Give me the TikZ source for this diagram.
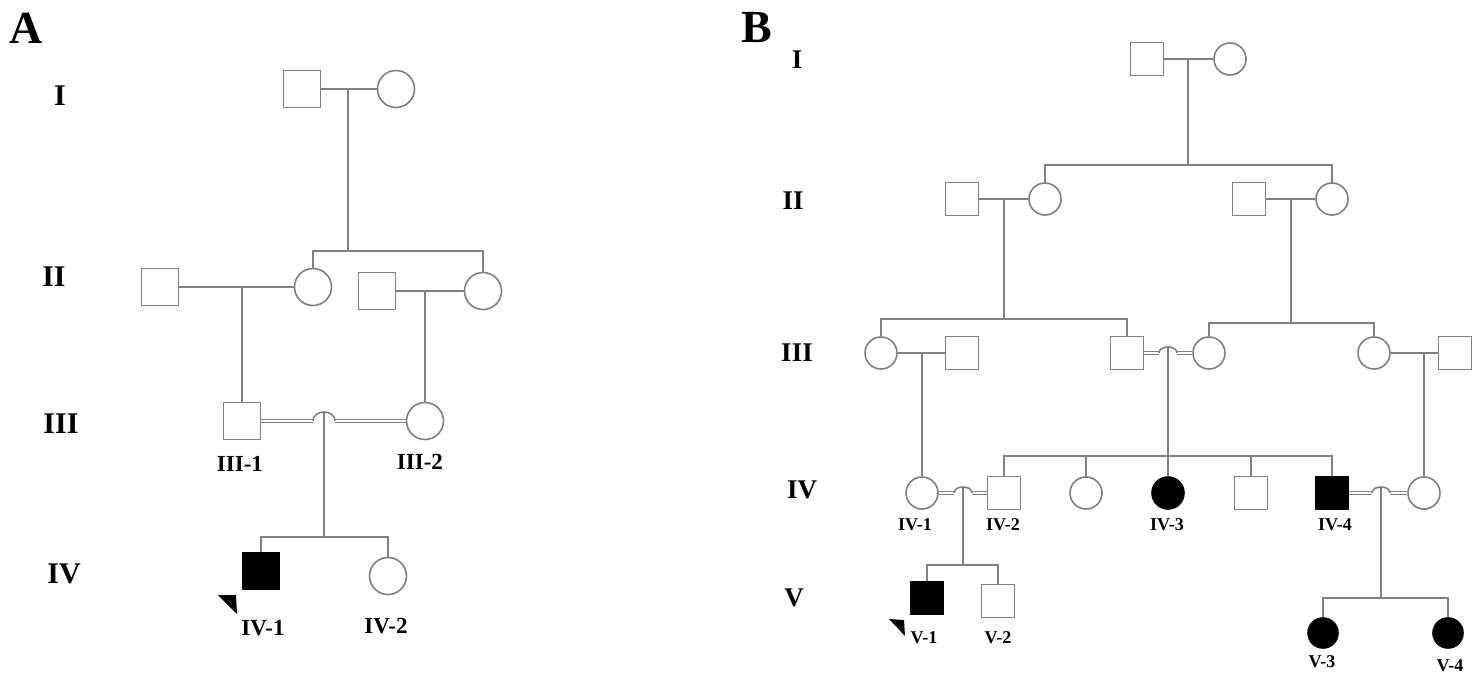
\documentclass[tikz,border=0pt]{standalone}
\usepackage{fontspec}
\setmainfont{Liberation Serif}
\begin{document}
\begin{tikzpicture}[x=1pt,y=-1pt]
\definecolor{lg}{gray}{0.5}
\tikzset{
 gl/.style={draw=lg, line width=1.6pt},
 dline/.style={draw=lg, line width=1.3pt},
 msA/.style={rectangle, draw=lg, line width=1.6pt, minimum size=37pt, inner sep=0pt, fill=white},
 fsA/.style={circle, draw=lg, line width=1.6pt, minimum size=37pt, inner sep=0pt, fill=white},
 msB/.style={rectangle, draw=lg, line width=1.6pt, minimum size=33pt, inner sep=0pt, fill=white},
 fsB/.style={circle, draw=lg, line width=1.6pt, minimum size=32pt, inner sep=0pt, fill=white},
 aff/.style={fill=black, draw=black},
 genA/.style={font=\fontsize{30}{30}\selectfont\bfseries, inner sep=0pt},
 genB/.style={font=\fontsize{27}{27}\selectfont\bfseries, inner sep=0pt},
 idA/.style={font=\fontsize{23}{23}\selectfont\bfseries, inner sep=0pt},
 idB/.style={font=\fontsize{18}{18}\selectfont\bfseries, inner sep=0pt},
 panel/.style={font=\fontsize{46}{46}\selectfont\bfseries, inner sep=0pt},
 prob/.style={fill=black, draw=none}
}
\useasboundingbox[fill=white] (0,0) rectangle (1483,677);

% ---------------- Panel A ----------------
\node[panel] (pA) at (26,28) {A};
\node[genA] (gAI) at (60,96) {I};
\node[genA] (gAII) at (54,277) {II};
\node[genA] (gAIII) at (61,424) {III};
\node[genA] (gAIV) at (64,574) {IV};

\node[msA] (AI1) at (302,89) {};
\node[fsA] (AI2) at (396,89) {};
\draw[gl] (AI1) -- (AI2);
\coordinate (mAI) at (348,89);
\coordinate (sAI) at (348,251);
\draw[gl] (mAI) -- (sAI);

\node[msA] (AII1) at (160,287) {};
\node[fsA] (AII2) at (313,287) {};
\node[msA] (AII3) at (377,291) {};
\node[fsA] (AII4) at (483,291) {};
\draw[gl] (AII2.north) |- (sAI) -| (AII4.north);
\draw[gl] (AII1) -- (AII2);
\draw[gl] (AII3) -- (AII4);
\coordinate (mAII1) at (242,287);
\coordinate (mAII3) at (425,291);

\node[msA] (AIII1) at (242,421) {};
\node[fsA] (AIII2) at (425,421) {};
\draw[gl] (mAII1) -- (AIII1.north);
\draw[gl] (mAII3) -- (AIII2.north);
\coordinate (hAl) at (313,421);
\coordinate (hAr) at (335,421);
\coordinate (hAt) at (324,412);
\draw[dline] ([yshift=1.4pt]AIII1.east) -- ([yshift=1.4pt]hAl);
\draw[dline] ([yshift=-1.4pt]AIII1.east) -- ([yshift=-1.4pt]hAl);
\draw[dline] ([yshift=1.4pt]hAr) -- ([yshift=1.4pt]AIII2.west);
\draw[dline] ([yshift=-1.4pt]hAr) -- ([yshift=-1.4pt]AIII2.west);
\draw[gl] (hAl) .. controls +(0,-12) and +(0,-12) .. (hAr);
\coordinate (sAIII) at (324,537);
\draw[gl] (hAt) -- (sAIII);
\node[idA] (lAIII1) at (240,464) {III-1};
\node[idA] (lAIII2) at (420,462) {III-2};

\node[msA,aff] (AIV1) at (261,571) {};
\node[fsA] (AIV2) at (388,576) {};
\draw[gl] (AIV1.north) |- (sAIII) -| (AIV2.north);
\node[idA] (lAIV1) at (263,628) {IV-1};
\node[idA] (lAIV2) at (386,626) {IV-2};
\fill[prob] (218,595) -- (236,595) -- (237,614) -- cycle;

% ---------------- Panel B ----------------
\node[panel] (pB) at (757,28) {B};
\node[genB] (gBI) at (797,60) {I};
\node[genB] (gBII) at (793,201) {II};
\node[genB] (gBIII) at (797,353) {III};
\node[genB] (gBIV) at (802,490) {IV};
\node[genB] (gBV) at (794,598) {V};

\node[msB] (BI1) at (1147,59) {};
\node[fsB] (BI2) at (1230,59) {};
\draw[gl] (BI1) -- (BI2);
\coordinate (mBI) at (1188,59);
\coordinate (sBI) at (1188,165);
\draw[gl] (mBI) -- (sBI);

\node[msB] (BII1) at (962,199) {};
\node[fsB] (BII2) at (1045,199) {};
\node[msB] (BII3) at (1249,199) {};
\node[fsB] (BII4) at (1332,199) {};
\draw[gl] (BII2.north) |- (sBI) -| (BII4.north);
\draw[gl] (BII1) -- (BII2);
\draw[gl] (BII3) -- (BII4);
\coordinate (mBII1) at (1004,199);
\coordinate (sBII1) at (1004,319);
\coordinate (mBII3) at (1291,199);
\coordinate (sBII3) at (1291,323);
\draw[gl] (mBII1) -- (sBII1);
\draw[gl] (mBII3) -- (sBII3);

\node[fsB] (BIII1) at (881,353) {};
\node[msB] (BIII2) at (962,353) {};
\node[msB] (BIII3) at (1127,353) {};
\node[fsB] (BIII4) at (1209,353) {};
\node[fsB] (BIII5) at (1374,353) {};
\node[msB] (BIII6) at (1455,353) {};
\draw[gl] (BIII1.north) |- (sBII1) -| (BIII3.north);
\draw[gl] (BIII4.north) |- (sBII3) -| (BIII5.north);
\draw[gl] (BIII1) -- (BIII2);
\draw[gl] (BIII5) -- (BIII6);
\coordinate (hBl) at (1159,353);
\coordinate (hBr) at (1177,353);
\coordinate (hBt) at (1168,347);
\draw[dline] ([yshift=1.4pt]BIII3.east) -- ([yshift=1.4pt]hBl);
\draw[dline] ([yshift=-1.4pt]BIII3.east) -- ([yshift=-1.4pt]hBl);
\draw[dline] ([yshift=1.4pt]hBr) -- ([yshift=1.4pt]BIII4.west);
\draw[dline] ([yshift=-1.4pt]hBr) -- ([yshift=-1.4pt]BIII4.west);
\draw[gl] (hBl) .. controls +(0,-8) and +(0,-8) .. (hBr);
\coordinate (mBIII1) at (922,353);
\coordinate (mBIII5) at (1424,353);

\node[fsB] (BIV1) at (922,493) {};
\node[msB] (BIV2) at (1004,493) {};
\node[fsB] (BIV5) at (1086,493) {};
\node[fsB,aff] (BIV3) at (1168,493) {};
\node[msB] (BIV6) at (1251,493) {};
\node[msB,aff] (BIV4) at (1332,493) {};
\node[fsB] (BIV7) at (1424,493) {};
\draw[gl] (mBIII1) -- (BIV1.north);
\draw[gl] (mBIII5) -- (BIV7.north);
\draw[gl] (hBt) -- (BIV3.north);
\coordinate (sBIV) at (1168,456);
\draw[gl] (BIV2.north) |- (sBIV) -| (BIV4.north);
\draw[gl] (BIV5.north) -- (BIV5.north |- sBIV);
\draw[gl] (BIV6.north) -- (BIV6.north |- sBIV);

\coordinate (hCl) at (954,493);
\coordinate (hCr) at (972,493);
\coordinate (hCt) at (963,487);
\draw[dline] ([yshift=1.4pt]BIV1.east) -- ([yshift=1.4pt]hCl);
\draw[dline] ([yshift=-1.4pt]BIV1.east) -- ([yshift=-1.4pt]hCl);
\draw[dline] ([yshift=1.4pt]hCr) -- ([yshift=1.4pt]BIV2.west);
\draw[dline] ([yshift=-1.4pt]hCr) -- ([yshift=-1.4pt]BIV2.west);
\draw[gl] (hCl) .. controls +(0,-8) and +(0,-8) .. (hCr);
\coordinate (sBIVa) at (963,565);
\draw[gl] (hCt) -- (sBIVa);

\coordinate (hDl) at (1372,493);
\coordinate (hDr) at (1390,493);
\coordinate (hDt) at (1381,487);
\draw[dline] ([yshift=1.4pt]BIV4.east) -- ([yshift=1.4pt]hDl);
\draw[dline] ([yshift=-1.4pt]BIV4.east) -- ([yshift=-1.4pt]hDl);
\draw[dline] ([yshift=1.4pt]hDr) -- ([yshift=1.4pt]BIV7.west);
\draw[dline] ([yshift=-1.4pt]hDr) -- ([yshift=-1.4pt]BIV7.west);
\draw[gl] (hDl) .. controls +(0,-8) and +(0,-8) .. (hDr);
\coordinate (sBIVb) at (1381,598);
\draw[gl] (hDt) -- (sBIVb);

\node[idB] (lBIV1) at (915,525) {IV-1};
\node[idB] (lBIV2) at (1003,525) {IV-2};
\node[idB] (lBIV3) at (1167,525) {IV-3};
\node[idB] (lBIV4) at (1335,525) {IV-4};

\node[msB,aff] (BV1) at (927,598) {};
\node[msB] (BV2) at (998,601) {};
\node[fsB,aff,minimum size=30pt] (BV3) at (1323,633) {};
\node[fsB,aff,minimum size=30pt] (BV4) at (1448,633) {};
\draw[gl] (BV1.north) |- (sBIVa) -| (BV2.north);
\draw[gl] (BV3.north) |- (sBIVb) -| (BV4.north);
\node[idB] (lBV1) at (924,638) {V-1};
\node[idB] (lBV2) at (998,638) {V-2};
\node[idB] (lBV3) at (1322,662) {V-3};
\node[idB] (lBV4) at (1450,666) {V-4};
\fill[prob] (889,619) -- (904,620) -- (905,636) -- cycle;
\end{tikzpicture}
\end{document}
